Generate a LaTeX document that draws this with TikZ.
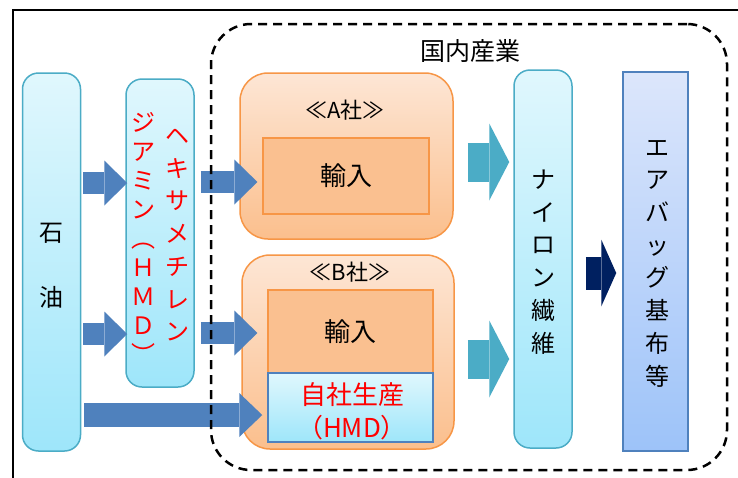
\documentclass[tikz,border=0pt]{standalone}
\usepackage{fontspec}
\setmainfont{Noto Sans CJK JP}
\usetikzlibrary{arrows.meta,calc}
\definecolor{cyanTop}{HTML}{E0F7FD}
\definecolor{cyanBot}{HTML}{9EE6FA}
\definecolor{cyanLine}{HTML}{4BACC6}
\definecolor{orTop}{HTML}{FDE6D5}
\definecolor{orBot}{HTML}{FBBF8D}
\definecolor{orLine}{HTML}{F79646}
\definecolor{orFill}{HTML}{FAC090}
\definecolor{blueLine}{HTML}{4F81BD}
\definecolor{navyArr}{HTML}{002060}
\definecolor{abTop}{HTML}{DCE6FB}
\definecolor{abBot}{HTML}{9DC3F9}
\definecolor{redText}{HTML}{FF0000}
\tikzset{
  cyanbox/.style={draw=cyanLine, line width=1.5pt, top color=cyanTop, bottom color=cyanBot,
    rounded corners=16pt, inner sep=0pt},
  orbox/.style={draw=orLine, line width=1.5pt, top color=orTop, bottom color=orBot,
    rounded corners=28pt, inner sep=0pt},
  orinner/.style={draw=orLine, line width=1.2pt, fill=orFill, inner sep=0pt},
  jishabox/.style={draw=blueLine, line width=1.5pt, top color=cyanTop, bottom color=cyanBot, inner sep=0pt},
  abbox/.style={draw=blueLine, line width=1.5pt, top color=abTop, bottom color=abBot, inner sep=0pt},
  vtext/.style={align=center, font=\fontsize{24}{32.7}\selectfont, inner sep=0pt},
  bluearr/.style={draw=blueLine, line width=22pt, -{Triangle[length=23pt,width=45pt,line width=0pt]}},
  longarr/.style={draw=blueLine, line width=24pt, -{Triangle[length=23pt,width=44pt,line width=0pt]}},
  tealarr/.style={draw=cyanLine, line width=39pt, -{Triangle[length=20pt,width=77pt,line width=0pt]}},
  navyarr/.style={draw=navyArr, line width=33pt, -{Triangle[length=15pt,width=67pt,line width=0pt]}},
}
\begin{document}
\begin{tikzpicture}[x=1pt,y=-1pt]
\useasboundingbox (0,0) rectangle (738,477);
\fill[white] (0,0) rectangle (738,477);
% outer frame (only top and left edges visible)
\draw[line width=2pt] (12.5,480) -- (12.5,10) -- (740,10);

% boxes
\node[cyanbox, minimum width=58pt, minimum height=378pt] (oil) at (51.5,262) {};
\node[vtext, font=\fontsize{24}{65}\selectfont] (oiltxt) at (51.5,265.5) {石\\油};

\node[cyanbox, minimum width=68pt, minimum height=308pt] (hmd) at (160,233) {};
\node[vtext, text=redText] (hmdR) at (177,235) {ヘ\\キ\\サ\\メ\\チ\\レ\\ン};
\node[vtext, text=redText, font=\fontsize{24}{29}\selectfont] (hmdL) at (143,238) {ジ\\ア\\ミ\\ン\\︵\\Ｈ\\Ｍ\\Ｄ\\︶};

\node[orbox, minimum width=213pt, minimum height=166pt] (abox) at (346.5,156) {};
\node[font=\fontsize{22}{26}\selectfont, inner sep=0pt] (alabel) at (345,110) {≪A社≫};
\node[orinner, minimum width=166pt, minimum height=76pt, font=\fontsize{26}{30}\selectfont] (ainner) at (346,176) {輸入};

\node[orbox, minimum width=212pt, minimum height=194pt] (bbox) at (348,352) {};
\node[font=\fontsize{22}{26}\selectfont, inner sep=0pt] (blabel) at (350,272) {≪B社≫};
\node[orinner, minimum width=165pt, minimum height=83pt, font=\fontsize{26}{30}\selectfont] (binner) at (350.5,331.5) {輸入};
\node[jishabox, minimum width=165pt, minimum height=69pt] (jisha) at (350.5,407.5) {};
\node[vtext, text=redText, font=\fontsize{26}{33}\selectfont] (jishatxt) at (352,411.5) {自社生産\\（HMD）};

\node[cyanbox, minimum width=58pt, minimum height=378pt] (nylon) at (543,259) {};
\node[vtext] (nylontxt) at (543,262) {ナ\\イ\\ロ\\ン\\繊\\維};

\node[abbox, minimum width=65pt, minimum height=379pt] (airbag) at (655.5,261.5) {};
\node[vtext] (airbagtxt) at (657,263.5) {エ\\ア\\バ\\ッ\\グ\\基\\布\\等};

% arrows
\draw[bluearr] ($(oil.east|-0,183)+(2,0)$) -- ($(hmd.west|-0,183)+(2,0)$);
\draw[bluearr] ($(oil.east|-0,334)+(2,0)$) -- ($(hmd.west|-0,334)+(2,0)$);
\draw[bluearr] ($(hmd.east|-0,182)+(6,0)$) -- ($(ainner.west|-0,182)+(-5,0)$);
\draw[bluearr] ($(hmd.east|-0,333)+(6,0)$) -- ($(binner.west|-0,333)+(-10,0)$);
\draw[longarr] ($(oil.east|-0,415)+(3,0)$) -- ($(jisha.west|-0,415)+(-5,0)$);
\draw[tealarr] ($(abox.east|-0,162)+(14,0)$) -- ($(nylon.west|-0,162)+(-4,0)$);
\draw[tealarr] ($(bbox.east|-0,359)+(13,0)$) -- ($(nylon.west|-0,359)+(-4,0)$);
\draw[navyarr] ($(nylon.east|-0,273)+(13,0)$) -- ($(airbag.west|-0,273)+(-6,0)$);

% domestic industry dashed boundary
\node[draw, line width=2.5pt, dash pattern=on 9pt off 6pt, rounded corners=40pt,
  minimum width=516pt, minimum height=446pt, inner sep=0pt] (domestic) at (469,247) {};
\node[font=\fontsize{25}{30}\selectfont, inner sep=0pt] (domlabel) at (470,51) {国内産業};
\end{tikzpicture}
\end{document}
